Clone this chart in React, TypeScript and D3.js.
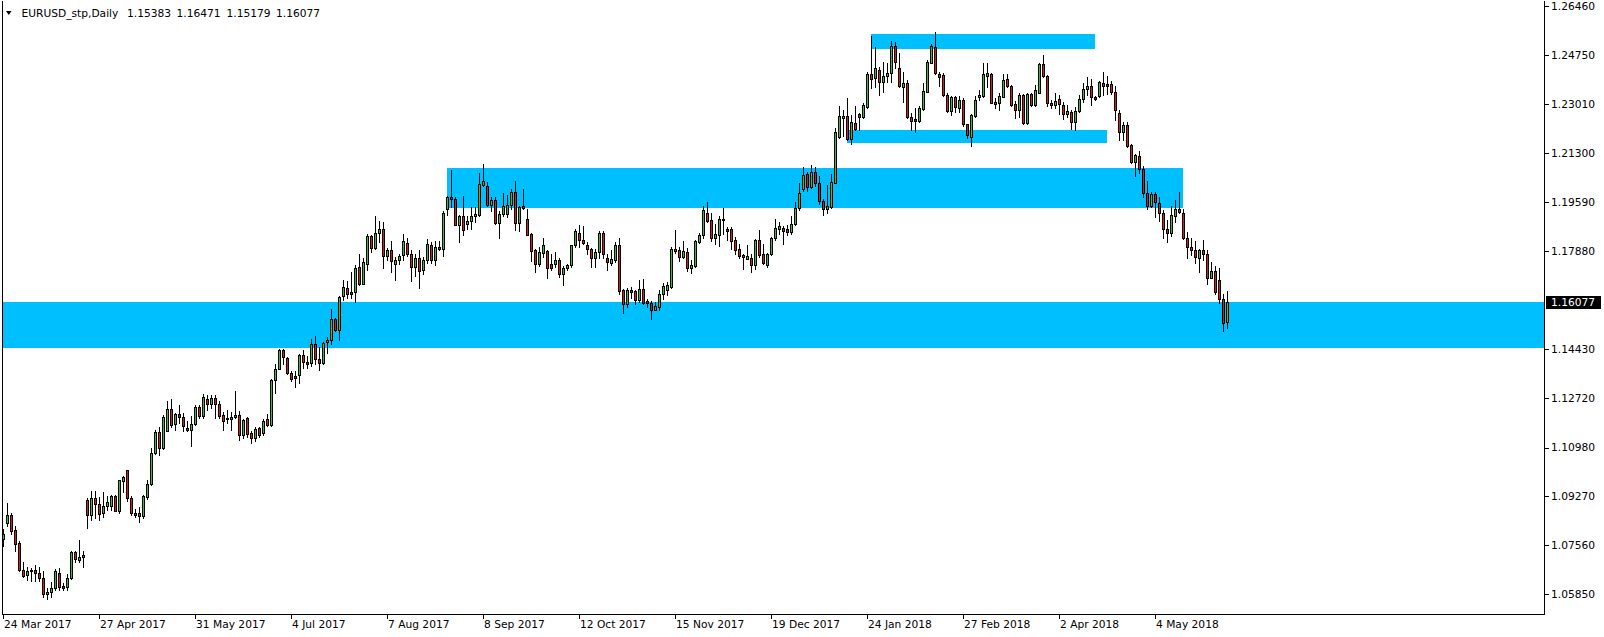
import React from 'react';
import * as d3 from 'd3';

const SYMBOL = 'EURUSD_stp,Daily';
const LAST_OHLC = [1.15383, 1.16471, 1.15179, 1.16077];

const OPEN = [
  1.0778,1.0834,1.0863,1.0809,1.0764,1.0670,1.0653,1.0664,1.0670,1.0658,
  1.0641,1.0585,1.0593,1.0605,1.0658,1.0612,1.0608,1.0641,1.0731,1.0704,
  1.0714,1.0916,1.0862,1.0922,1.0901,1.0869,1.0893,1.0893,1.0928,1.0877,
  1.0980,1.1018,1.0922,1.0869,1.0868,1.0857,1.0924,1.0971,1.1078,1.1154,
  1.1096,1.1158,1.1234,1.1181,1.1216,1.1207,1.1167,1.1160,1.1181,1.1242,
  1.1208,1.1269,1.1252,1.1273,1.1252,1.1211,1.1199,1.1199,1.1205,1.1213,
  1.1143,1.1202,1.1149,1.1132,1.1166,1.1150,1.1197,1.1176,1.1336,1.1374,
  1.1439,1.1413,1.1360,1.1348,1.1351,1.1421,1.1398,1.1396,1.1462,1.1410,
  1.1396,1.1468,1.1476,1.1550,1.1512,1.1629,1.1659,1.1644,1.1644,1.1731,
  1.1673,1.1743,1.1839,1.1798,1.1851,1.1866,1.1770,1.1792,1.1743,1.1757,
  1.1772,1.1817,1.1775,1.1732,1.1764,1.1722,1.1755,1.1810,1.1757,1.1802,
  1.1794,1.1936,1.1975,1.1971,1.1880,1.1909,1.1881,1.1892,1.1909,1.1915,
  1.2018,1.2015,1.1950,1.1965,1.1884,1.1916,1.1916,1.1948,1.1995,1.1887,
  1.1944,1.1899,1.1846,1.1790,1.1740,1.1781,1.1786,1.1743,1.1740,1.1757,
  1.1708,1.1726,1.1737,1.1808,1.1852,1.1827,1.1808,1.1794,1.1764,1.1784,
  1.1849,1.1761,1.1746,1.1755,1.1810,1.1649,1.1603,1.1649,1.1646,1.1614,
  1.1655,1.1611,1.1605,1.1581,1.1591,1.1638,1.1652,1.1661,1.1796,1.1790,
  1.1766,1.1782,1.1729,1.1734,1.1819,1.1845,1.1922,1.1895,1.1833,1.1845,
  1.1901,1.1863,1.1863,1.1825,1.1793,1.1772,1.1760,1.1764,1.1739,1.1825,
  1.1775,1.1737,1.1776,1.1834,1.1863,1.1869,1.1863,1.1854,1.1883,1.1939,
  1.2003,1.2056,1.2012,1.2065,1.2024,1.1963,1.1936,1.1942,1.2027,1.2188,
  1.2255,1.2260,1.2179,1.2237,1.2267,1.2258,1.2293,1.2407,1.2392,1.2421,
  1.2378,1.2400,1.2412,1.2506,1.2427,1.2363,1.2375,1.2258,1.2250,1.2244,
  1.2285,1.2345,1.2447,1.2501,1.2407,1.2404,1.2334,1.2279,1.2326,1.2290,
  1.2316,1.2231,1.2187,1.2261,1.2326,1.2330,1.2400,1.2407,1.2310,1.2307,
  1.2328,1.2389,1.2365,1.2301,1.2283,1.2334,1.2237,1.2337,1.2299,1.2342,
  1.2443,1.2400,1.2307,1.2299,1.2319,1.2299,1.2267,1.2275,1.2238,1.2279,
  1.2319,1.2354,1.2365,1.2326,1.2330,1.2377,1.2372,1.2371,1.2343,1.2271,
  1.2204,1.2228,1.2158,1.2099,1.2120,1.2074,1.1989,1.1946,1.1987,1.1954,
  1.1919,1.1864,1.1849,1.1911,1.1936,1.1922,1.1834,1.1802,1.1792,1.1764,
  1.1790,1.1775,1.1694,1.1716,1.1685,1.1620,1.15383,
];

const HIGH = [
  1.0813,1.0904,1.0869,1.0825,1.0770,1.0698,1.0678,1.0675,1.0686,1.0678,
  1.0664,1.0605,1.0628,1.0672,1.0675,1.0623,1.0655,1.0737,1.0737,1.0775,
  1.0737,1.0920,1.0947,1.0947,1.0924,1.0944,1.0928,1.0933,1.0932,1.0986,
  1.0998,1.1021,1.0930,1.0883,1.0891,1.0933,1.0986,1.1096,1.1161,1.1170,
  1.1211,1.1261,1.1267,1.1220,1.1248,1.1220,1.1190,1.1208,1.1249,1.1249,
  1.1287,1.1281,1.1281,1.1281,1.1263,1.1222,1.1231,1.1222,1.1295,1.1228,
  1.1199,1.1207,1.1158,1.1170,1.1170,1.1199,1.1216,1.1339,1.1392,1.1442,
  1.1442,1.1415,1.1366,1.1366,1.1425,1.1439,1.1419,1.1478,1.1488,1.1451,
  1.1468,1.1486,1.1583,1.1554,1.1630,1.1685,1.1682,1.1712,1.1737,1.1775,
  1.1763,1.1846,1.1843,1.1909,1.1893,1.1889,1.1798,1.1822,1.1767,1.1776,
  1.1846,1.1834,1.1790,1.1776,1.1790,1.1767,1.1829,1.1819,1.1823,1.1822,
  1.1927,1.1980,1.2071,1.1977,1.1915,1.1980,1.1909,1.1940,1.1942,1.2061,
  1.2092,1.2030,1.1977,1.1977,1.1927,1.1989,1.1983,1.2003,1.2033,1.1944,
  1.2004,1.1936,1.1849,1.1796,1.1802,1.1833,1.1792,1.1778,1.1784,1.1761,
  1.1734,1.1743,1.1810,1.1864,1.1878,1.1874,1.1819,1.1798,1.1794,1.1857,
  1.1857,1.1775,1.1792,1.1819,1.1834,1.1655,1.1657,1.1661,1.1652,1.1684,
  1.1688,1.1620,1.1611,1.1608,1.1652,1.1676,1.1679,1.1801,1.1860,1.1801,
  1.1821,1.1799,1.1755,1.1825,1.1852,1.1944,1.1959,1.1921,1.1881,1.1909,
  1.1939,1.1872,1.1872,1.1837,1.1811,1.1778,1.1810,1.1778,1.1831,1.1860,
  1.1811,1.1781,1.1837,1.1901,1.1889,1.1874,1.1877,1.1909,1.1959,1.2024,
  1.2082,1.2065,1.2088,1.2082,1.2051,1.1971,1.2018,1.2056,1.2217,1.2295,
  1.2281,1.2322,1.2264,1.2295,1.2272,1.2307,1.2416,1.2540,1.2503,1.2433,
  1.2451,1.2445,1.2524,1.2521,1.2480,1.2416,1.2386,1.2272,1.2290,1.2295,
  1.2375,1.2457,1.2513,1.2556,1.2416,1.2410,1.2340,1.2330,1.2330,1.2330,
  1.2322,1.2234,1.2269,1.2330,1.2351,1.2445,1.2445,1.2412,1.2322,1.2342,
  1.2407,1.2407,1.2369,1.2313,1.2340,1.2337,1.2340,1.2342,1.2369,1.2445,
  1.2474,1.2404,1.2316,1.2342,1.2334,1.2310,1.2299,1.2281,1.2293,1.2334,
  1.2377,1.2398,1.2389,1.2330,1.2383,1.2416,1.2400,1.2384,1.2365,1.2281,
  1.2240,1.2240,1.2161,1.2128,1.2137,1.2085,1.2032,1.1995,1.1995,1.1977,
  1.1930,1.1895,1.1944,1.1965,1.1995,1.1936,1.1854,1.1834,1.1822,1.1794,
  1.1827,1.1790,1.1747,1.1734,1.1726,1.1638,1.16471,
];

const LOW = [
  1.0754,1.0822,1.0795,1.0737,1.0667,1.0645,1.0635,1.0631,1.0631,1.0629,
  1.0573,1.0567,1.0573,1.0600,1.0600,1.0600,1.0600,1.0637,1.0698,1.0698,
  1.0678,1.0815,1.0846,1.0851,1.0846,1.0854,1.0881,1.0881,1.0875,1.0869,
  1.0942,1.0912,1.0863,1.0854,1.0836,1.0851,1.0918,1.0968,1.1074,1.1073,
  1.1094,1.1156,1.1170,1.1160,1.1184,1.1156,1.1156,1.1105,1.1179,1.1202,
  1.1202,1.1231,1.1238,1.1202,1.1202,1.1161,1.1185,1.1161,1.1202,1.1126,
  1.1132,1.1135,1.1115,1.1123,1.1137,1.1143,1.1173,1.1173,1.1290,1.1372,
  1.1392,1.1355,1.1331,1.1310,1.1325,1.1377,1.1378,1.1383,1.1392,1.1369,
  1.1392,1.1430,1.1460,1.1507,1.1474,1.1615,1.1624,1.1624,1.1609,1.1669,
  1.1671,1.1720,1.1784,1.1794,1.1819,1.1726,1.1755,1.1714,1.1687,1.1740,
  1.1755,1.1769,1.1682,1.1700,1.1659,1.1705,1.1746,1.1746,1.1737,1.1790,
  1.1770,1.1915,1.1942,1.1878,1.1819,1.1843,1.1864,1.1864,1.1889,1.1911,
  1.2015,1.1944,1.1927,1.1881,1.1834,1.1911,1.1907,1.1933,1.1860,1.1858,
  1.1934,1.1843,1.1753,1.1714,1.1735,1.1767,1.1694,1.1720,1.1732,1.1696,
  1.1667,1.1722,1.1731,1.1802,1.1802,1.1813,1.1775,1.1731,1.1731,1.1764,
  1.1761,1.1722,1.1737,1.1749,1.1638,1.1570,1.1591,1.1624,1.1603,1.1608,
  1.1603,1.1591,1.1550,1.1579,1.1581,1.1620,1.1634,1.1658,1.1780,1.1752,
  1.1763,1.1717,1.1710,1.1731,1.1817,1.1834,1.1889,1.1822,1.1811,1.1804,
  1.1846,1.1825,1.1795,1.1776,1.1764,1.1725,1.1758,1.1714,1.1723,1.1766,
  1.1741,1.1731,1.1772,1.1827,1.1846,1.1811,1.1842,1.1848,1.1880,1.1930,
  1.1997,1.1998,1.2008,1.2015,1.1951,1.1913,1.1921,1.1939,1.2024,1.2184,
  1.2190,1.2176,1.2164,1.2211,1.2213,1.2255,1.2290,1.2360,1.2363,1.2334,
  1.2343,1.2381,1.2378,1.2427,1.2363,1.2310,1.2255,1.2211,1.2203,1.2240,
  1.2281,1.2343,1.2445,1.2406,1.2365,1.2331,1.2273,1.2264,1.2275,1.2275,
  1.2225,1.2185,1.2155,1.2258,1.2316,1.2328,1.2363,1.2305,1.2290,1.2283,
  1.2326,1.2363,1.2296,1.2255,1.2258,1.2234,1.2234,1.2295,1.2295,1.2340,
  1.2396,1.2295,1.2287,1.2290,1.2267,1.2250,1.2258,1.2214,1.2213,1.2275,
  1.2310,1.2334,1.2299,1.2316,1.2326,1.2334,1.2337,1.2339,1.2245,1.2175,
  1.2175,1.2152,1.2096,1.2050,1.2061,1.1977,1.1936,1.1942,1.1907,1.1893,
  1.1833,1.1819,1.1840,1.1889,1.1921,1.1831,1.1761,1.1772,1.1746,1.1714,
  1.1755,1.1671,1.1691,1.1638,1.1605,1.1507,1.15179,
];

const CLOSE = [
  1.0795,1.0863,1.0807,1.0760,1.0670,1.0647,1.0667,1.0670,1.0658,1.0641,
  1.0585,1.0593,1.0605,1.0664,1.0608,1.0605,1.0641,1.0731,1.0708,1.0716,
  1.0723,1.0862,1.0922,1.0901,1.0866,1.0895,1.0909,1.0928,1.0877,1.0983,
  1.0994,1.0920,1.0868,1.0863,1.0860,1.0930,1.0971,1.1080,1.1154,1.1097,
  1.1207,1.1234,1.1176,1.1216,1.1205,1.1173,1.1160,1.1181,1.1242,1.1208,
  1.1277,1.1252,1.1273,1.1252,1.1208,1.1193,1.1202,1.1207,1.1213,1.1143,
  1.1195,1.1146,1.1132,1.1164,1.1144,1.1190,1.1178,1.1336,1.1374,1.1439,
  1.1415,1.1360,1.1339,1.1342,1.1421,1.1398,1.1392,1.1462,1.1410,1.1396,
  1.1466,1.1476,1.1550,1.1512,1.1626,1.1661,1.1638,1.1638,1.1729,1.1673,
  1.1747,1.1839,1.1799,1.1851,1.1866,1.1770,1.1792,1.1751,1.1757,1.1769,
  1.1822,1.1775,1.1732,1.1764,1.1717,1.1757,1.1813,1.1757,1.1802,1.1794,
  1.1919,1.1975,1.1969,1.1880,1.1909,1.1860,1.1892,1.1909,1.1916,1.2022,
  1.2032,1.1948,1.1965,1.1884,1.1916,1.1944,1.1948,1.1995,1.1887,1.1940,
  1.1939,1.1845,1.1788,1.1743,1.1782,1.1810,1.1729,1.1728,1.1757,1.1708,
  1.1729,1.1737,1.1808,1.1857,1.1827,1.1817,1.1794,1.1764,1.1784,1.1849,
  1.1778,1.1747,1.1760,1.1810,1.1646,1.1603,1.1649,1.1643,1.1614,1.1655,
  1.1605,1.1605,1.1581,1.1593,1.1638,1.1663,1.1667,1.1796,1.1787,1.1766,
  1.1786,1.1729,1.1737,1.1821,1.1845,1.1930,1.1893,1.1833,1.1846,1.1901,
  1.1895,1.1856,1.1822,1.1790,1.1769,1.1766,1.1769,1.1739,1.1825,1.1772,
  1.1745,1.1778,1.1834,1.1869,1.1874,1.1857,1.1854,1.1883,1.1939,1.1992,
  1.2055,1.2012,1.2065,1.2026,1.1963,1.1936,1.1945,1.2030,1.2203,1.2261,
  1.2261,1.2179,1.2238,1.2214,1.2258,1.2299,1.2407,1.2390,1.2427,1.2378,
  1.2400,1.2412,1.2506,1.2451,1.2365,1.2375,1.2258,1.2244,1.2244,1.2287,
  1.2348,1.2448,1.2506,1.2410,1.2398,1.2334,1.2279,1.2326,1.2293,1.2316,
  1.2231,1.2193,1.2264,1.2316,1.2334,1.2406,1.2412,1.2307,1.2302,1.2330,
  1.2386,1.2365,1.2299,1.2283,1.2334,1.2237,1.2337,1.2299,1.2351,1.2443,
  1.2400,1.2305,1.2299,1.2314,1.2302,1.2267,1.2278,1.2238,1.2278,1.2319,
  1.2354,1.2365,1.2326,1.2320,1.2378,1.2366,1.2366,1.2343,1.2281,1.2204,
  1.2228,1.2155,1.2099,1.2125,1.2074,1.1989,1.1946,1.1987,1.1960,1.1919,
  1.1863,1.1849,1.1913,1.1936,1.1925,1.1833,1.1802,1.1792,1.1767,1.1790,
  1.1775,1.1694,1.1716,1.1644,1.1620,1.1536,1.16077,
];

const PRICE_TICKS = [1.2646, 1.2475, 1.2301, 1.2130, 1.1959, 1.1788, 1.1443, 1.1272, 1.1098, 1.0927, 1.0756, 1.0585];

const DATE_LABELS = [
  '24 Mar 2017', '27 Apr 2017', '31 May 2017', '4 Jul 2017', '7 Aug 2017', '8 Sep 2017',
  '12 Oct 2017', '15 Nov 2017', '19 Dec 2017', '24 Jan 2018', '27 Feb 2018', '2 Apr 2018', '4 May 2018',
];
const DATE_BARS = [0, 24, 48, 72, 96, 120, 144, 168, 192, 216, 240, 264, 288];

// supply / demand rectangles (bar index from/to, price top/bottom)
const ZONE_FROM = [-5, 111, 211, 217];
const ZONE_TO = [420, 295, 276, 273];
const ZONE_TOP = [1.1608, 1.2078, 1.2211, 1.2548];
const ZONE_BOTTOM = [1.1447, 1.1938, 1.2166, 1.2495];

const BULL = '#22cc22';
const BEAR = '#dd1a1a';
const ZONE = '#00bfff';
const FONT = 'DejaVu Sans, Verdana, sans-serif';

export default function App() {
  const W = 1604;
  const H = 637;
  const plotL = 2;
  const plotR = 1544;
  const plotT = 1;
  const plotB = 614;

  const x = d3.scaleLinear().domain([0, 1]).range([3, 7]);
  const y = d3.scaleLinear().domain([1.0585, 1.2646]).range([594, 6]);
  const fmt = d3.format('.5f');

  const candles = OPEN.map((o, i) => ({ o, h: HIGH[i], l: LOW[i], c: CLOSE[i], i }));
  const last = LAST_OHLC[3];
  const ohlcX = [127, 176.5, 226.5, 276];

  return (
    <svg width={W} height={H} style={{ position: 'absolute', left: 0, top: 0, background: '#fff' }}
      fontFamily={FONT} fontSize="8pt">
      <defs>
        <clipPath id="plotClip">
          <rect x={plotL + 1} y={plotT + 1} width={plotR - plotL - 1} height={plotB - plotT - 1} />
        </clipPath>
      </defs>
      <rect x={0} y={0} width={W} height={H} fill="#fff" />
      <g clipPath="url(#plotClip)">
        {ZONE_FROM.map((f, k) => {
          const x0 = Math.round(x(f));
          const x1 = Math.round(x(ZONE_TO[k]));
          const y0 = Math.round(y(ZONE_TOP[k]));
          const y1 = Math.round(y(ZONE_BOTTOM[k]));
          return <rect key={k} x={x0} y={y0} width={x1 - x0} height={y1 - y0} fill={ZONE} />;
        })}
        {candles.map((d) => {
          const cx = Math.round(x(d.i));
          const yh = Math.round(y(d.h));
          const yl = Math.round(y(d.l));
          const yt = Math.round(y(Math.max(d.o, d.c)));
          const yb = Math.round(y(Math.min(d.o, d.c)));
          const fill = d.c >= d.o ? BULL : BEAR;
          return (
            <g key={d.i}>
              <line x1={cx + 0.5} x2={cx + 0.5} y1={yh} y2={yl + 1} stroke="#000" strokeWidth={1} />
              {yb - yt >= 1 ? (
                <rect x={cx - 0.5} y={yt + 0.5} width={2} height={yb - yt} fill={fill} stroke="#000" strokeWidth={1} />
              ) : (
                <line x1={cx - 1} x2={cx + 2} y1={yt + 0.5} y2={yt + 0.5} stroke="#000" strokeWidth={1} />
              )}
            </g>
          );
        })}
      </g>
      {/* frame */}
      <line x1={plotL + 0.5} x2={plotL + 0.5} y1={plotT} y2={plotB + 1} stroke="#000" />
      <line x1={plotR + 0.5} x2={plotR + 0.5} y1={plotT} y2={plotB + 1} stroke="#000" />
      <line x1={plotL} x2={plotR + 1} y1={plotB + 0.5} y2={plotB + 0.5} stroke="#000" />
      {/* title */}
      <path d="M6,11 L11.5,11 L8.75,15 Z" fill="#000" />
      <text x={21.5} y={17} fill="#000">{SYMBOL}</text>
      {LAST_OHLC.map((v, k) => (
        <text key={k} x={ohlcX[k]} y={17} fill="#000">{fmt(v)}</text>
      ))}
      {/* right price axis */}
      {PRICE_TICKS.map((v) => (
        <g key={v}>
          <line x1={plotR + 1} x2={plotR + 5} y1={Math.round(y(v)) + 0.5} y2={Math.round(y(v)) + 0.5} stroke="#000" />
          <text x={1551} y={y(v)} dy="0.36em" fill="#000">{fmt(v)}</text>
        </g>
      ))}
      <rect x={1546} y={Math.round(y(last)) - 6} width={55} height={13} fill="#000" />
      <text x={1551} y={y(last)} dy="0.36em" fill="#fff">{fmt(last)}</text>
      {/* bottom date axis */}
      {DATE_BARS.map((b, k) => {
        const tx = Math.round(x(b));
        return (
          <g key={b}>
            <line x1={tx + 0.5} x2={tx + 0.5} y1={plotB} y2={plotB + 5} stroke="#000" />
            <text x={tx + 1} y={628} fill="#000">{DATE_LABELS[k]}</text>
          </g>
        );
      })}
    </svg>
  );
}
